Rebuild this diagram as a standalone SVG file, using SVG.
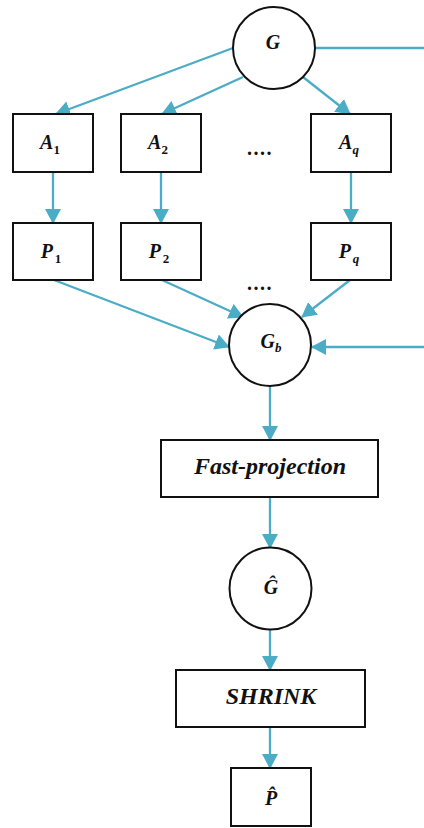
<svg xmlns="http://www.w3.org/2000/svg" width="424" height="828" viewBox="0 0 424 828">
<style>
.node{fill:#fff;stroke:#111;stroke-width:2}
.conn line{stroke:#4BACC6;stroke-width:2.3;fill:none}
.m{font-family:"Liberation Serif","DejaVu Serif",serif;font-style:italic;font-weight:bold;fill:#111;font-size:20px}
.sub{font-size:13px}
.up{font-style:normal}
.lbl{font-family:"Liberation Serif","DejaVu Serif",serif;font-style:italic;font-weight:bold;fill:#111;font-size:24px}
.dots{font-family:"Liberation Serif",serif;font-weight:bold;fill:#111;font-size:20px;letter-spacing:1.5px}
</style>
<defs>
<marker id="ah" markerUnits="userSpaceOnUse" markerWidth="18" markerHeight="18" refX="14" refY="8" orient="auto">
<path d="M0,0 L15,8 L0,16 z" fill="#4BACC6"/>
</marker>
</defs>
<rect width="424" height="828" fill="#fff"/>
<g id="connectors" class="conn">
<line x1="233" y1="48" x2="56" y2="114" marker-end="url(#ah)"/>
<line x1="243" y1="77" x2="162" y2="114" marker-end="url(#ah)"/>
<line x1="303" y1="77" x2="350" y2="114" marker-end="url(#ah)"/>
<line x1="315" y1="48" x2="424" y2="48"/>
<line x1="53" y1="172" x2="53" y2="223" marker-end="url(#ah)"/>
<line x1="161" y1="172" x2="161" y2="223" marker-end="url(#ah)"/>
<line x1="351" y1="172" x2="351" y2="223" marker-end="url(#ah)"/>
<line x1="54" y1="280" x2="229" y2="347" marker-end="url(#ah)"/>
<line x1="162" y1="280" x2="243" y2="317" marker-end="url(#ah)"/>
<line x1="350" y1="280" x2="302" y2="317" marker-end="url(#ah)"/>
<line x1="424" y1="347" x2="312" y2="347" marker-end="url(#ah)"/>
<line x1="270" y1="386" x2="270" y2="440" marker-end="url(#ah)"/>
<line x1="270" y1="497" x2="270" y2="548" marker-end="url(#ah)"/>
<line x1="270" y1="630" x2="270" y2="670" marker-end="url(#ah)"/>
<line x1="270" y1="727" x2="270" y2="768" marker-end="url(#ah)"/>
</g>
<g id="node-G">
<circle class="node" cx="274" cy="48" r="41"/>
<text class="m" x="273" y="48.5" text-anchor="middle">G</text>
</g>
<g id="node-A1">
<rect class="node" x="13" y="114" width="80" height="58"/>
<text class="m" x="50" y="149" text-anchor="middle">A<tspan class="sub up" dy="5">1</tspan></text>
</g>
<g id="node-A2">
<rect class="node" x="121" y="114" width="80" height="58"/>
<text class="m" x="158" y="149" text-anchor="middle">A<tspan class="sub up" dy="5">2</tspan></text>
</g>
<g id="dots-A">
<text class="dots" x="260" y="155" text-anchor="middle">....</text>
</g>
<g id="node-Aq">
<rect class="node" x="311" y="114" width="80" height="58"/>
<text class="m" x="349" y="149" text-anchor="middle">A<tspan class="sub" dy="5">q</tspan></text>
</g>
<g id="node-P1">
<rect class="node" x="13" y="223" width="80" height="57"/>
<text class="m" x="51" y="258" text-anchor="middle">P<tspan class="sub up" dy="5" dx="2">1</tspan></text>
</g>
<g id="node-P2">
<rect class="node" x="121" y="223" width="80" height="57"/>
<text class="m" x="159" y="258" text-anchor="middle">P<tspan class="sub up" dy="5" dx="2">2</tspan></text>
</g>
<g id="dots-P">
<text class="dots" x="260" y="290" text-anchor="middle">....</text>
</g>
<g id="node-Pq">
<rect class="node" x="311" y="223" width="80" height="57"/>
<text class="m" x="349" y="258" text-anchor="middle">P<tspan class="sub" dy="5" dx="2">q</tspan></text>
</g>
<g id="node-Gb">
<circle class="node" cx="270" cy="345" r="41"/>
<text class="m" x="271" y="348" text-anchor="middle">G<tspan class="sub" dy="4">b</tspan></text>
</g>
<g id="node-fast-projection">
<rect class="node" x="161" y="440" width="217" height="57"/>
<text class="lbl" x="270" y="474" text-anchor="middle">Fast-projection</text>
</g>
<g id="node-Ghat">
<circle class="node" cx="270.5" cy="588.5" r="41"/>
<text class="m" x="271" y="594" text-anchor="middle">Ĝ</text>
</g>
<g id="node-shrink">
<rect class="node" x="176" y="670" width="189" height="57"/>
<text class="lbl" x="271" y="704" text-anchor="middle">SHRINK</text>
</g>
<g id="node-Phat">
<rect class="node" x="231" y="768" width="80" height="58"/>
<text class="m" x="271" y="805" text-anchor="middle">P̂</text>
</g>
</svg>
